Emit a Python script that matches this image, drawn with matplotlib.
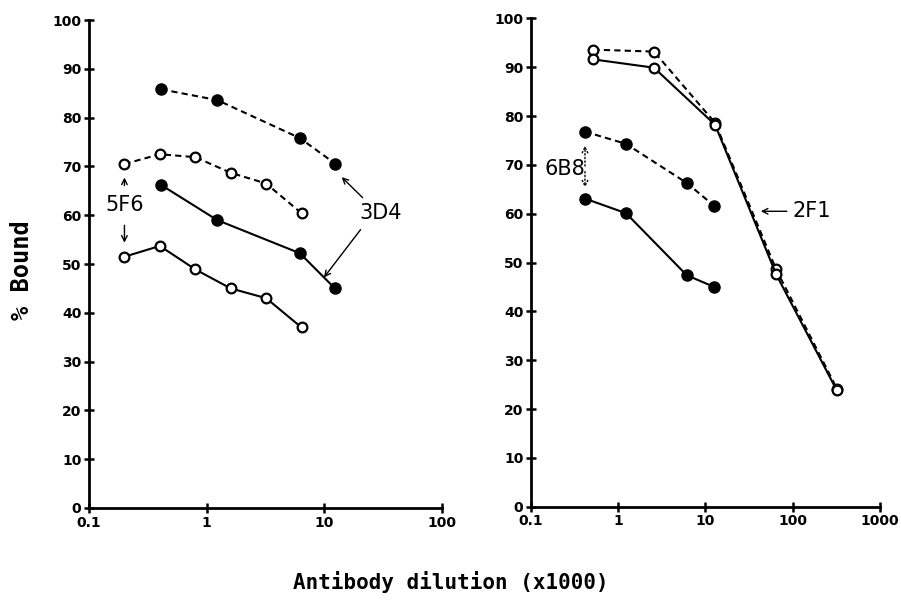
import matplotlib
matplotlib.use("Agg")
import matplotlib.pyplot as plt
import numpy as np

# Left panel: 5F6 (open) and 3D4 (filled)
f5_x = [0.2, 0.4, 0.8, 1.6, 3.2, 6.4]
f5_dash = [70.5, 72.5, 71.9, 68.7, 66.5, 60.4]
f5_solid = [51.5, 53.7, 48.9, 45.0, 43.0, 37.0]

d3_x = [0.41, 1.23, 6.2, 12.3]
d3_dash = [85.8, 83.6, 75.8, 70.6]
d3_solid = [66.2, 59.0, 52.2, 45.0]

# Right panel: 2F1 (open) and 6B8 (filled)
f2_x = [0.52, 2.57, 12.9, 64.5, 320]
f2_dash = [93.6, 93.2, 78.6, 48.6, 24.2]
f2_solid = [91.6, 89.9, 78.2, 47.6, 23.8]

b6_x = [0.416, 1.23, 6.1, 12.6]
b6_dash = [76.8, 74.3, 66.3, 61.6]
b6_solid = [63.1, 60.1, 47.4, 45.0]

yticks = [0, 10, 20, 30, 40, 50, 60, 70, 80, 90, 100]

plt.rcParams['font.family'] = 'DejaVu Sans Mono'

fig = plt.figure(figsize=(9.01, 6.13), dpi=100)
ax1 = fig.add_axes([0.0988, 0.1713, 0.3918, 0.796])
ax2 = fig.add_axes([0.5893, 0.1734, 0.3874, 0.7966])

dash = (0, (3, 2))
op = dict(marker='o', ms=7, mfc='white', mec='black', mew=1.6, color='black', lw=1.5)
fl = dict(marker='o', ms=8, mfc='black', mec='black', color='black', lw=1.5)

ax1.plot(d3_x, d3_dash, ls=dash, **fl)
ax1.plot(d3_x, d3_solid, ls='-', **fl)
ax1.plot(f5_x, f5_dash, ls=dash, **op)
ax1.plot(f5_x, f5_solid, ls='-', **op)

ax2.plot(f2_x, f2_dash, ls=dash, **op)
ax2.plot(f2_x, f2_solid, ls='-', **op)
ax2.plot(b6_x, b6_dash, ls=dash, **fl)
ax2.plot(b6_x, b6_solid, ls='-', **fl)

for ax, xmax in [(ax1, 100), (ax2, 1000)]:
    ax.set_xscale('log')
    ax.set_xlim(0.1, xmax)
    ax.set_ylim(0, 100)
    ax.set_yticks(yticks)
    ax.minorticks_off()
    decades = [10.0 ** k for k in range(-1, int(np.log10(xmax)) + 1)]
    ax.set_xticks(decades)
    ax.set_xticklabels(['0.1' if d < 1 else str(int(d)) for d in decades])
    for s in ['top', 'right']:
        ax.spines[s].set_visible(False)
    for s in ['left', 'bottom']:
        ax.spines[s].set_linewidth(2)
    ax.tick_params(direction='inout', length=7, width=1.8, labelsize=10, pad=2)
    for lab in ax.get_xticklabels() + ax.get_yticklabels():
        lab.set_fontweight('bold')
        lab.set_family('DejaVu Sans Condensed')

# annotations left
arr = dict(arrowstyle='->', color='black', lw=1)
ax1.text(0.2, 62, '5F6', fontsize=15, ha='center', va='center', family='DejaVu Sans Condensed')
ax1.annotate('', xy=(0.2, 68.3), xytext=(0.2, 65.5), arrowprops=arr)
ax1.annotate('', xy=(0.2, 53.8), xytext=(0.2, 58.5), arrowprops=arr)
ax1.text(30, 60.5, '3D4', fontsize=15, ha='center', va='center', family='DejaVu Sans Condensed')
ax1.annotate('', xy=(13.5, 68.2), xytext=(22, 63.2), arrowprops=arr)
ax1.annotate('', xy=(9.6, 46.8), xytext=(21, 57.5), arrowprops=arr)

# annotations right
ax2.text(0.245, 69.2, '6B8', fontsize=15, ha='center', va='center', family='DejaVu Sans Condensed')
ax2.annotate('', xy=(0.416, 74.5), xytext=(0.416, 69.2),
             arrowprops=dict(arrowstyle='->', color='black', lw=1, ls=':'))
ax2.annotate('', xy=(0.416, 64.8), xytext=(0.416, 69.2),
             arrowprops=dict(arrowstyle='->', color='black', lw=1, ls=':'))
ax2.annotate('', xy=(40, 60.5), xytext=(92, 60.5), arrowprops=arr)
ax2.text(100, 60.5, '2F1', fontsize=15, ha='left', va='center', family='DejaVu Sans Condensed')

fig.text(0.024, 0.56, '% Bound', rotation=90, fontsize=17, ha='center', va='center', fontweight='bold')
fig.text(0.5, 0.05, 'Antibody dilution (x1000)', fontsize=15, ha='center', va='center', fontweight='bold')

fig.savefig('out.png', dpi=100)
